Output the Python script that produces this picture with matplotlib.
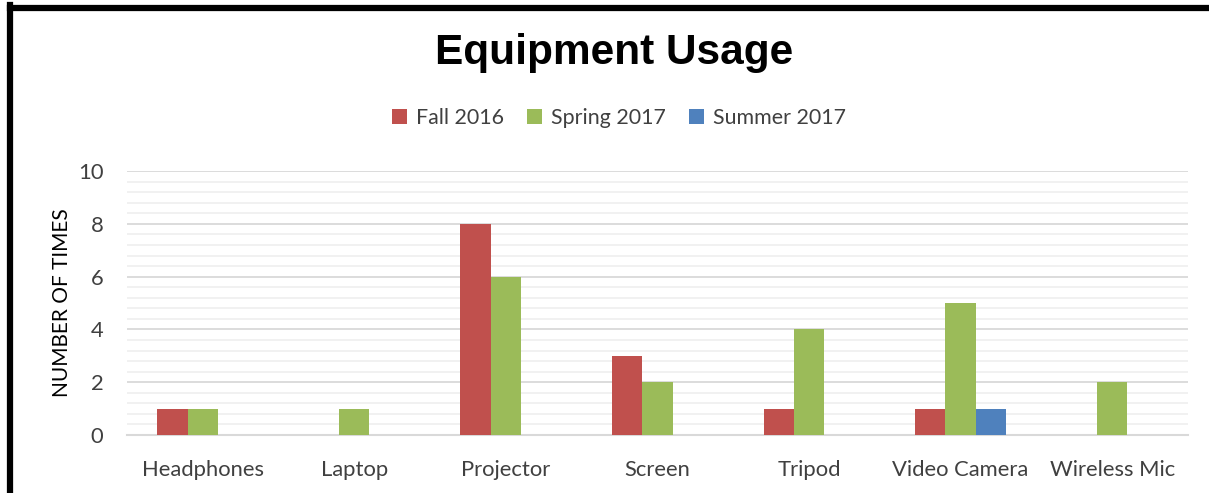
import numpy as np
import matplotlib.pyplot as plt
from matplotlib.lines import Line2D
from matplotlib.ticker import MultipleLocator

# Datos del gráfico
categorias = ["Headphones", "Laptop", "Projector", "Screen", "Tripod", "Video Camera", "Wireless Mic"]
fall_2016 = [1, 0, 8, 3, 1, 1, 0]
spring_2017 = [1, 1, 6, 2, 4, 5, 2]
summer_2017 = [0, 0, 0, 0, 0, 1, 0]
series = ["Fall 2016", "Spring 2017", "Summer 2017"]
colores = ["#C0504D", "#9BBB59", "#4F81BD"]

plt.rcParams['font.family'] = ['Lato', 'DejaVu Sans']

fig = plt.figure(figsize=(12.09, 4.93), dpi=100)
ax = fig.add_axes([0.105, 0.1176, 0.8776, 0.5355])

x = np.arange(len(categorias))
ancho = 0.2
for i, (nombre, valores, color) in enumerate(zip(series, [fall_2016, spring_2017, summer_2017], colores)):
    ax.bar(x + (i - 1) * ancho, valores, ancho, color=color, label=nombre, zorder=3)

#Configurar ejes
ax.set_xlim(-0.5, len(categorias) - 0.5)
ax.set_ylim(0, 10)
ax.yaxis.set_major_locator(MultipleLocator(2))
ax.yaxis.set_minor_locator(MultipleLocator(0.4))
ax.grid(which='major', axis='y', color='#D9D9D9', linewidth=1.3, zorder=0)
ax.grid(which='minor', axis='y', color='#F0F0F0', linewidth=1.3, zorder=0)
ax.set_xticks(x)
ax.set_xticklabels(categorias)
ax.tick_params(axis='both', which='both', length=0, labelsize=15.8, labelcolor='#404040')
ax.tick_params(axis='x', pad=18)
ax.tick_params(axis='y', pad=17)
for s in ['top', 'right', 'left']:
    ax.spines[s].set_visible(False)
ax.spines['bottom'].set_color('#D9D9D9')
ax.spines['bottom'].set_linewidth(1.5)
ax.set_ylabel("NUMBER OF TIMES", fontsize=15, color='black', labelpad=4)

#Título y leyenda
fig.text(0.508, 0.893, "Equipment Usage", ha='center', va='center', fontsize=30.5,
         fontweight='bold', family='Liberation Sans')
fig.legend(loc='center', bbox_to_anchor=(0.512, 0.76), ncol=3, frameon=False,
           fontsize=15.4, handlelength=0.7, handleheight=0.7, handletextpad=0.4,
           columnspacing=1.1, labelcolor='#404040')

#Borde negro
fig.add_artist(Line2D([9.5 / 1209, 9.5 / 1209], [0, 1 - 5 / 493], color='black', linewidth=4.5,
                      transform=fig.transFigure, solid_capstyle='projecting'))
fig.add_artist(Line2D([9.5 / 1209, 1], [1 - 7.5 / 493, 1 - 7.5 / 493], color='black', linewidth=4.5,
                      transform=fig.transFigure, solid_capstyle='projecting'))

fig.savefig("out.png", dpi=100, facecolor='white')
